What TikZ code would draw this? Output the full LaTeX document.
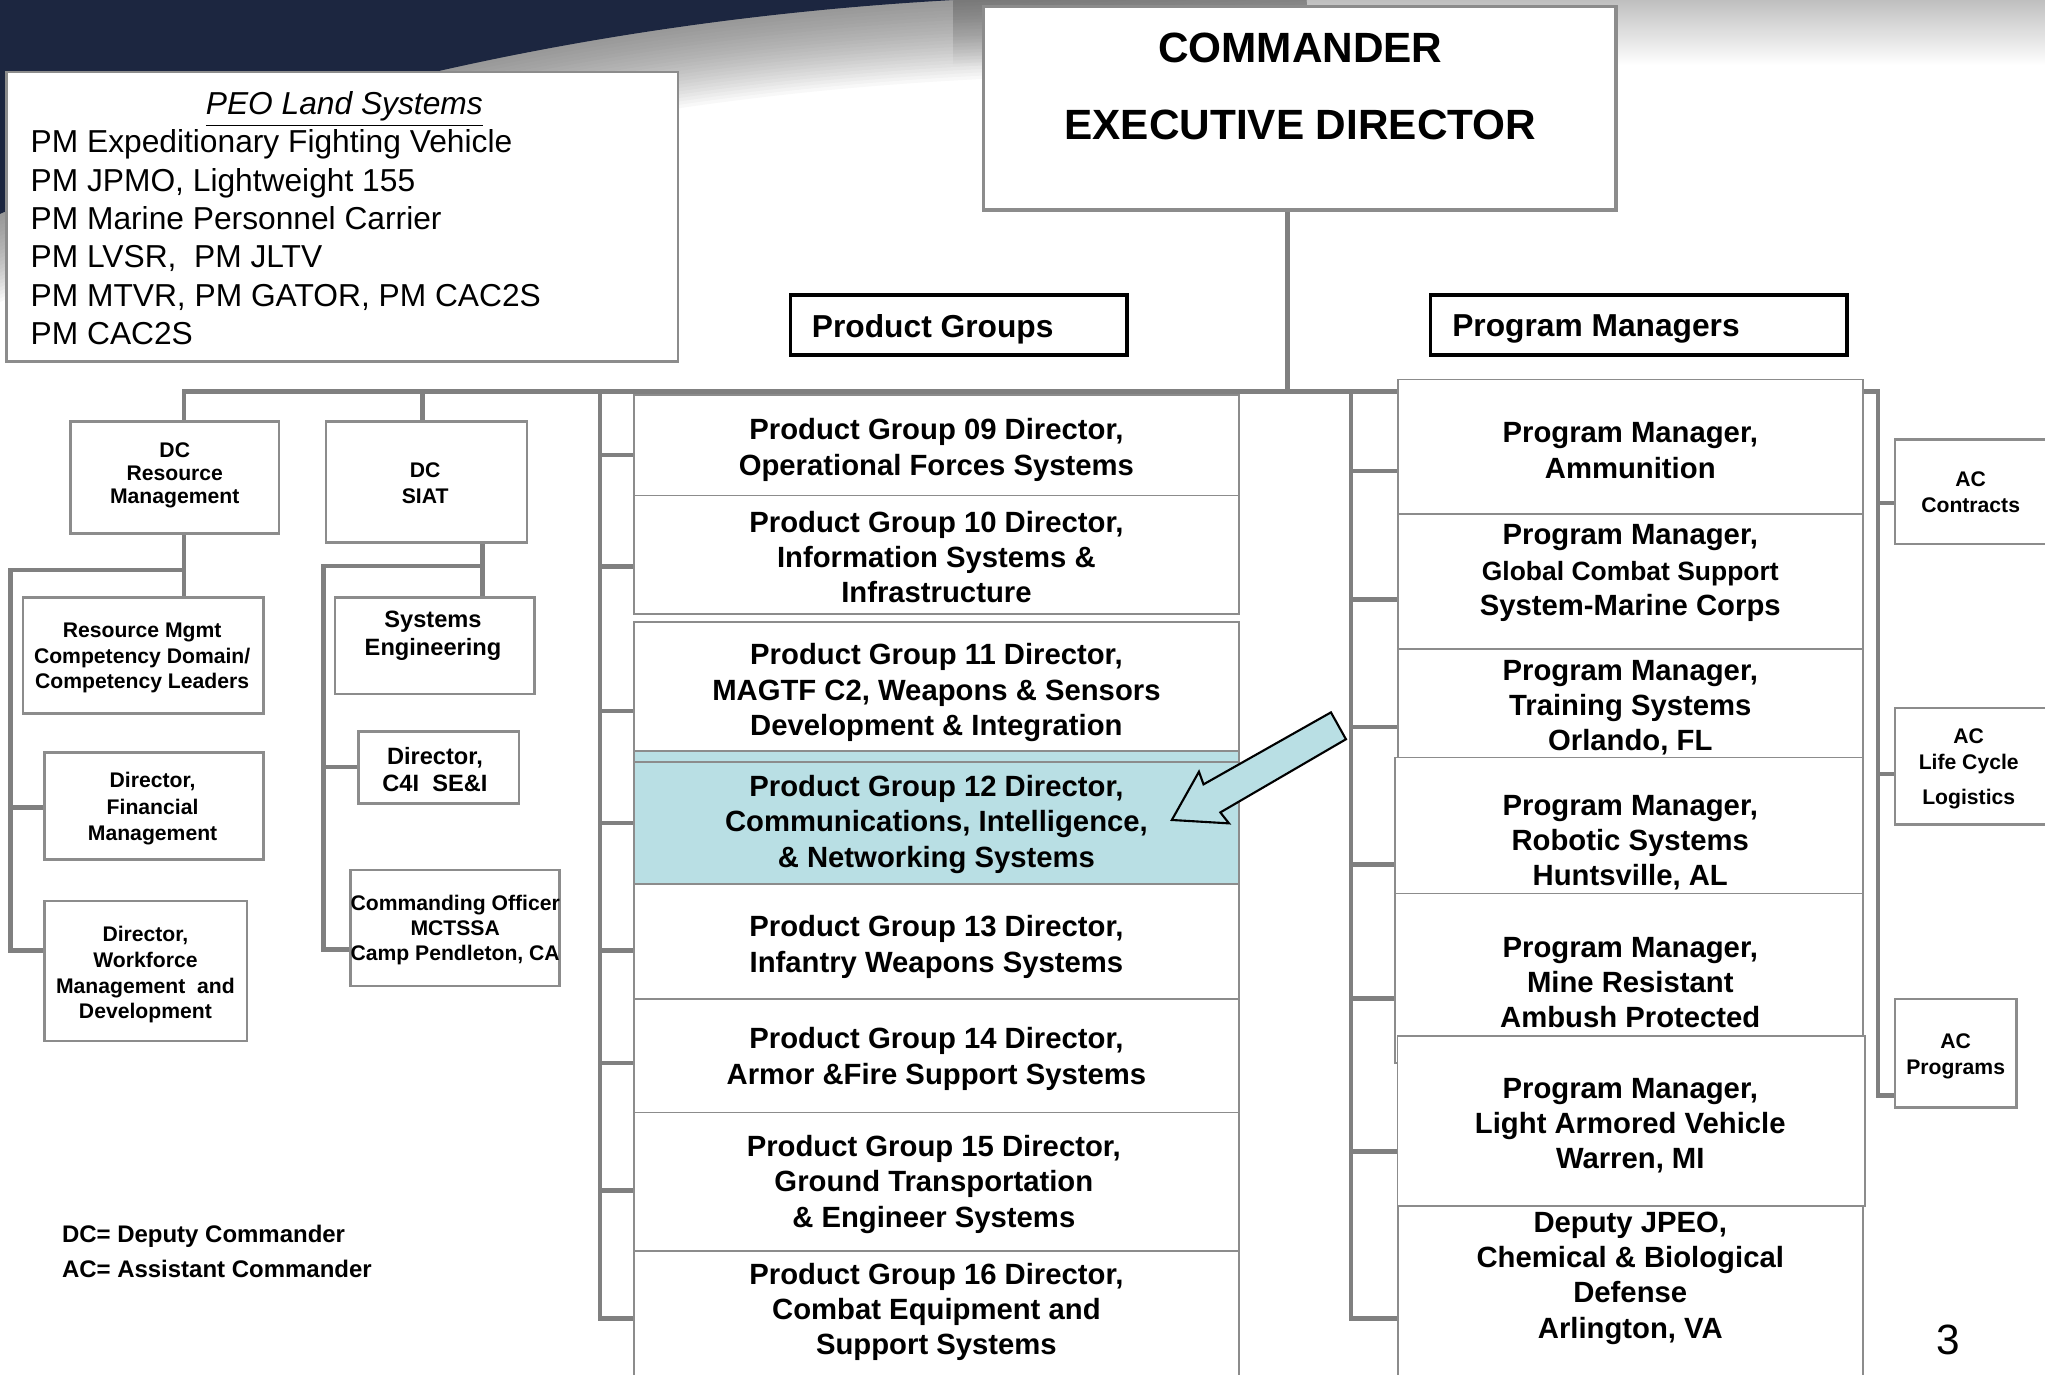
\documentclass[tikz,border=0pt]{standalone}
\usepackage{fontspec}
\setmainfont{Liberation Sans}
\usetikzlibrary{positioning,fit,backgrounds}

\definecolor{navy}{RGB}{28,38,64}
\definecolor{boxgray}{RGB}{140,140,140}
\definecolor{linegray}{RGB}{128,128,128}
\definecolor{pgcyan}{RGB}{185,223,228}

\tikzset{
  box/.style={draw=boxgray, line width=0.7pt, fill=white, inner sep=0pt},
  tree/.style={draw=linegray, line width=1.3pt},
  header/.style={draw=black, line width=1pt, fill=white, inner sep=0pt},
  headtext/.style={anchor=west, inner sep=0pt, font=\fontsize{9}{11}\selectfont\bfseries},
  pgbox/.style={box, line width=0.5pt},
  pgtext/.style={align=center, inner sep=0pt, font=\fontsize{8.3}{10}\selectfont\bfseries},
  pmtext/.style={align=center, inner sep=0pt, font=\fontsize{8.3}{10}\selectfont\bfseries},
  smalltext/.style={align=center, inner sep=0pt, font=\fontsize{6}{7.2}\selectfont\bfseries},
  actext/.style={align=center, inner sep=0pt, font=\fontsize{6}{7.4}\selectfont\bfseries}
}

\begin{document}
\begin{tikzpicture}[x=0.013cm, y=-0.013cm]
\useasboundingbox (0,0) rectangle (1568,1054);
\clip (0,0) rectangle (1568,1054);

% backdrop swoosh
\begin{scope}[on background layer]
  \shade[top color=black!25, bottom color=white] (731,0) rectangle (1568,50);
  \foreach \i in {1,...,24}
    \draw[black!65, line width=(25-\i)*1.9pt, opacity=0.04, line join=round]
      (1001,-15) -- (731,0) .. controls (460,15) and (200,74) .. (0,164) -- (-100,209);
  \fill[navy] (0,0) -- (731,0) .. controls (460,15) and (200,74) .. (0,164) -- cycle;
\end{scope}

% top
\node[box, line width=0.9pt, fit={(754,5) (1239,161)}] (cmd) {};
\node[align=center, font=\fontsize{12}{21.8}\selectfont\bfseries] (cmdtxt) at (997,66) {COMMANDER\\EXECUTIVE DIRECTOR};

\node[box, fit={(5,55) (520,277)}] (peo) {};
\node[inner sep=0pt, font=\fontsize{9}{10.9}\selectfont\itshape] (peotitle) at (264,84) {\underline{PEO Land Systems}};
\node[anchor=west, align=left, inner sep=0pt, font=\fontsize{9}{10.9}\selectfont] (peolist) at (23,182)
  {PM Expeditionary Fighting Vehicle\\PM JPMO, Lightweight 155\\PM Marine Personnel Carrier\\PM LVSR,~ PM JLTV\\PM MTVR, PM GATOR, PM CAC2S\\PM CAC2S};

\node[header, fit={(606,226) (864,272)}] (pghead) {};
\node[headtext] (pgheadtxt) at (622,252.5) {Product Groups};
\node[header, fit={(1097,226) (1416,272)}] (pmhead) {};
\node[headtext] (pmheadtxt) at (1113,252.5) {Program Managers};

% deputy commanders
\node[box, fit={(54,323) (214,409)}] (dcrm) {};
\node[smalltext, font=\fontsize{6}{6.4}\selectfont\bfseries] (dcrmtxt) at (134,364.5) {DC\\Resource\\Management};
\node[box, fit={(250,323) (404,416)}] (siat) {};
\node[smalltext] (siattxt) at (326,370.5) {DC\\SIAT};
\node[box, fit={(17.6,458) (202,547)}] (rmmgmt) {};
\node[smalltext] (rmmgmttxt) at (109,504.5) {Resource Mgmt\\Competency Domain/\\Competency Leaders};
\node[box, fit={(34,577) (202,659)}] (finm) {};
\node[smalltext, font=\fontsize{6}{7.4}\selectfont\bfseries] (finmtxt) at (117,620) {Director,\\Financial\\Management};
\node[box, fit={(34,691) (189.5,798)}] (wfm) {};
\node[smalltext, font=\fontsize{6}{7.3}\selectfont\bfseries] (wfmtxt) at (111.5,747.5) {Director,\\Workforce\\Management~ and\\Development};
\node[box, fit={(257,458) (410,532)}] (syseng) {};
\node[smalltext, font=\fontsize{6.7}{8.1}\selectfont\bfseries] (sysengtxt) at (332,487.5) {Systems\\Engineering};
\node[box, fit={(275,561) (398,616)}] (c4i) {};
\node[smalltext, font=\fontsize{6.7}{7.8}\selectfont\bfseries] (c4itxt) at (333.5,590) {Director,\\C4I~ SE\&I};
\node[box, fit={(268.6,667) (429,756)}] (cofficer) {};
\node[smalltext] (cofficertxt) at (349,713) {Commanding Officer\\MCTSSA\\Camp Pendleton, CA};

% product groups
\node[pgbox, fit={(486,303) (950,380)}] (pg09) {};
\node[pgtext] (pg09txt) at (718,345) {Product Group 09 Director,\\Operational Forces Systems};
\node[pgbox, fit={(486,380) (950,471)}] (pg10) {};
\node[pgtext] (pg10txt) at (718,427) {Product Group 10 Director,\\Information Systems \&\\Infrastructure};
\node[pgbox, fit={(486,477) (950,576)}] (pg11) {};
\node[pgtext] (pg11txt) at (718,531) {Product Group 11 Director,\\MAGTF C2, Weapons \& Sensors\\Development \& Integration};
\node[pgbox, fill=pgcyan, fit={(486,576) (950,678)}] (pg12) {};
\draw[boxgray, line width=0.5pt] ([yshift=-3.3pt]pg12.north west) -- ([yshift=-3.3pt]pg12.north east);
\node[pgtext] (pg12txt) at (718,632) {Product Group 12 Director,\\Communications, Intelligence,\\\& Networking Systems};
\node[pgbox, fit={(486,678) (950,766)}] (pg13) {};
\node[pgtext] (pg13txt) at (718,726) {Product Group 13 Director,\\Infantry Weapons Systems};
\node[pgbox, fit={(486,766) (950,853)}] (pg14) {};
\node[pgtext] (pg14txt) at (718,812) {Product Group 14 Director,\\Armor \&Fire Support Systems};
\node[pgbox, fit={(486,853) (950,959)}] (pg15) {};
\node[pgtext] (pg15txt) at (716,908) {Product Group 15 Director,\\Ground Transportation\\\& Engineer Systems};
\node[pgbox, fit={(486,959) (950,1060)}] (pg16) {};
\node[pgtext] (pg16txt) at (718,1006) {Product Group 16 Director,\\Combat Equipment and\\Support Systems};

% pointer to PG 12
\draw[fill=pgcyan, line width=0.6pt] (1020.5,546.2) -- (922.8,601.4) -- (919.3,591.7) -- (898.5,628.7)
  -- (942.3,631.3) -- (935.7,622.9) -- (1032,566.8) -- cycle;

% program managers
\node[pgbox, fit={(1072,291) (1428.5,394)}] (pm1) {};
\node[pmtext] (pm1txt) at (1250,345.5) {Program Manager,\\Ammunition};
\node[pgbox, fit={(1072,394) (1428.5,497.6)}] (pm2) {};
\node[pmtext] (pm2txt) at (1250,439.5) {Program Manager,\\{\fontsize{7.5}{10}\selectfont Global Combat Support}\\System-Marine Corps};
\node[pgbox, fit={(1072,497.6) (1428.5,580.8)}] (pm3) {};
\node[pmtext] (pm3txt) at (1250,542.5) {Program Manager,\\Training Systems\\Orlando, FL};
\node[pgbox, fit={(1069.6,580.8) (1428.5,685.2)}] (pm4) {};
\node[pmtext] (pm4txt) at (1250,646) {Program Manager,\\Robotic Systems\\Huntsville, AL};
\node[pgbox, fit={(1069.6,685) (1428.5,815)}] (pm5) {};
\node[pmtext] (pm5txt) at (1250,753.5) {Program Manager,\\Mine Resistant\\Ambush Protected};
\node[pgbox, fit={(1071.5,794.4) (1430.2,924.7)}] (pm6) {};
\node[pmtext] (pm6txt) at (1250,863) {Program Manager,\\Light Armored Vehicle\\Warren, MI};
\node[pgbox, fit={(1072,924.7) (1428.5,1060)}] (dep) {};
\node[pmtext] (deptxt) at (1250,980) {Deputy JPEO,\\Chemical \& Biological\\Defense\\Arlington, VA};

% assistant commanders
\node[box, fit={(1452.8,336.8) (1572,417.2)}] (accon) {};
\node[actext] (accontxt) at (1511,377.5) {AC\\Contracts};
\node[box, fit={(1452.8,543) (1572,632.2)}] (aclcl) {};
\node[actext] (aclcltxt) at (1509.5,589.5) {AC\\Life Cycle\\[2.5pt]Logistics};
\node[box, fit={(1452.8,766) (1546,849)}] (acprog) {};
\node[actext] (acprogtxt) at (1499.5,810) {AC\\Programs};

\node[anchor=west, align=left, inner sep=0pt, font=\fontsize{6.8}{10}\selectfont\bfseries] (legend) at (47,959.5)
  {DC= Deputy Commander\\AC= Assistant Commander};
\node[font=\fontsize{12}{14}\selectfont] (pnum) at (1494,1027.5) {3};

% org lines
\begin{scope}[on background layer]
  \coordinate (barL) at (141,300);
  \coordinate (barR) at (1440,300);
  \coordinate (acend) at (1440,840);
  \draw[tree] (barL |- dcrm.north) -- (barL) -- (barR) -- (acend) -- (acend -| acprog.west);
  \foreach \n/\y in {accon/385.7,aclcl/593.5}
    \draw[tree] (1440,\y) -- (1440,\y -| \n.west);

  \coordinate (cmdj) at (987,300);
  \draw[tree] (cmdj |- cmd.south) -- (cmdj);

  \coordinate (pgtop) at (460,300);
  \coordinate (pgend) at (460,1011);
  \draw[tree] (pgtop) -- (pgend) -- (pgend -| pg16.west);
  \foreach \n/\y in {pg09/349,pg10/434.5,pg11/545,pg12/631,pg13/729,pg14/815,pg15/913}
    \draw[tree] (460,\y) -- (460,\y -| \n.west);

  \coordinate (pmtop) at (1036,300);
  \coordinate (pmend) at (1036,1011);
  \draw[tree] (pmtop) -- (pmend) -- (pmend -| dep.west);
  \foreach \n/\y in {pm1/361,pm2/459.6,pm3/557.5,pm4/663,pm5/765.7,pm6/883}
    \draw[tree] (1036,\y) -- (1036,\y -| \n.west);

  \coordinate (rmj) at (141,437);
  \coordinate (rmL) at (8,437);
  \coordinate (rmend) at (8,729);
  \draw[tree] (rmj |- dcrm.south) -- (rmj |- rmmgmt.north);
  \draw[tree] (rmj) -- (rmL) -- (rmend) -- (rmend -| wfm.west);
  \draw[tree] (8,619) -- (8,619 -| finm.west);

  \coordinate (siatj) at (324,300);
  \draw[tree] (siatj) -- (siatj |- siat.north);
  \coordinate (sj) at (370,434);
  \coordinate (sL) at (248,434);
  \coordinate (send) at (248,728);
  \draw[tree] (sj |- siat.south) -- (sj |- syseng.north);
  \draw[tree] (sj) -- (sL) -- (send) -- (send -| cofficer.west);
  \draw[tree] (248,588) -- (248,588 -| c4i.west);
\end{scope}
\end{tikzpicture}
\end{document}
